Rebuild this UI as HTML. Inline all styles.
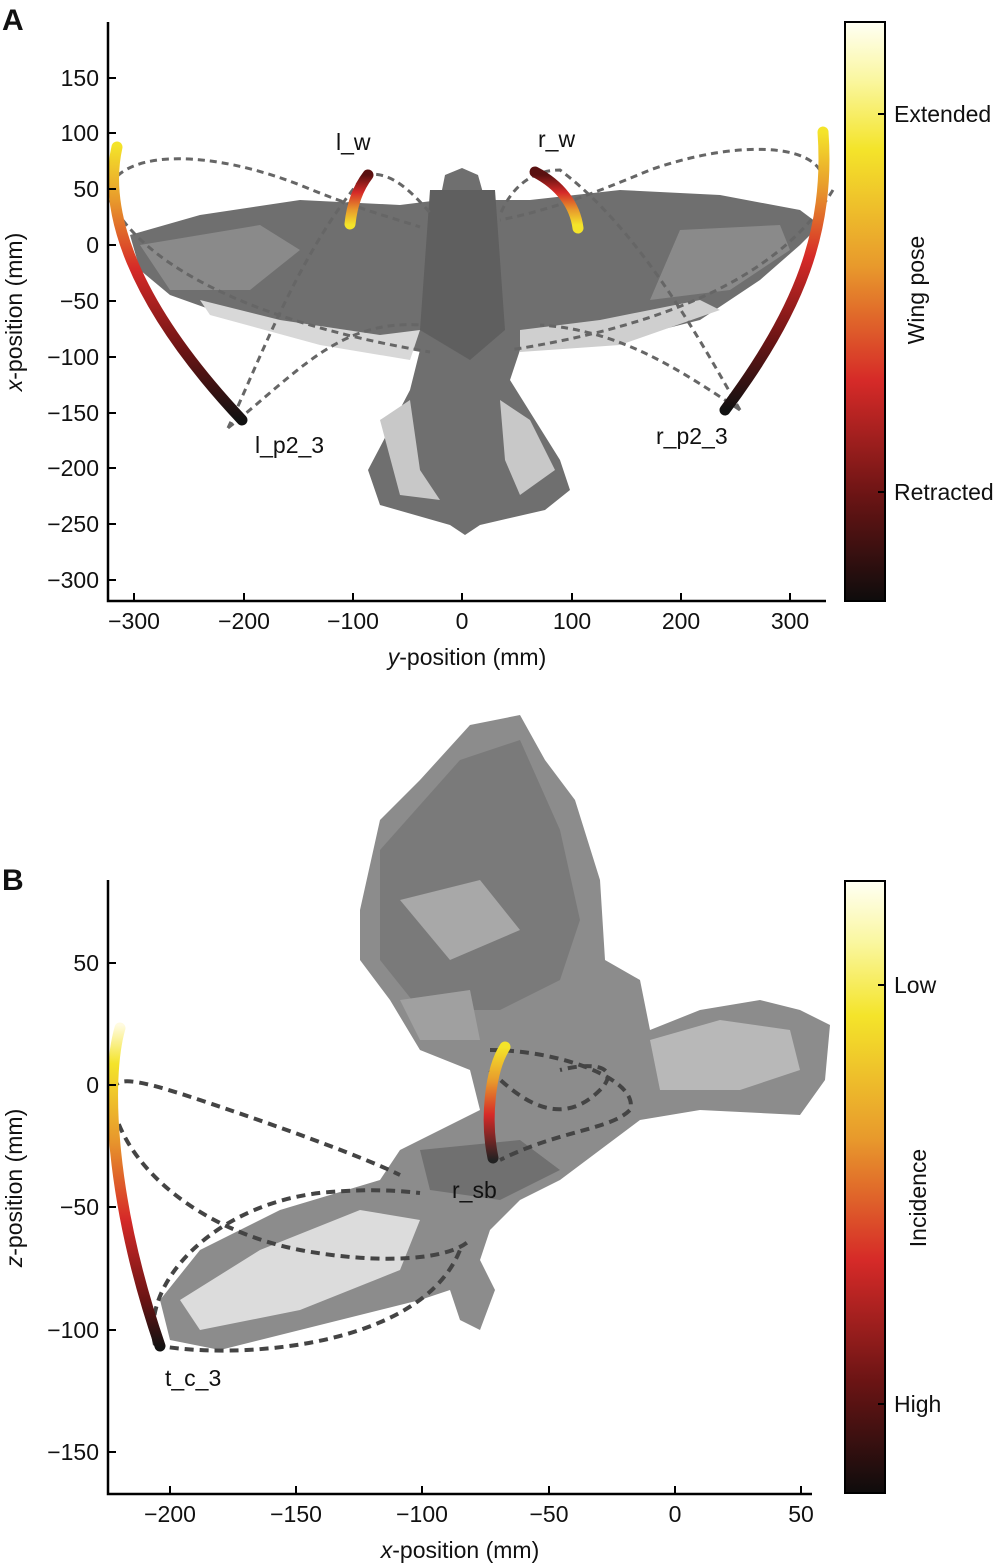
<!DOCTYPE html>
<html><head><meta charset="utf-8"><style>
html,body{margin:0;padding:0;background:#fff}
svg{display:block}
text{font-family:"Liberation Sans",Arial,sans-serif;fill:#111}
</style></head><body>
<svg width="1000" height="1566" viewBox="0 0 1000 1566" xmlns="http://www.w3.org/2000/svg">
<defs>
<linearGradient id="cb" x1="0" y1="0" x2="0" y2="1">
<stop offset="0" stop-color="#fffff4"/><stop offset="0.1" stop-color="#faf7a0"/>
<stop offset="0.22" stop-color="#f4e42a"/><stop offset="0.42" stop-color="#e89a2c"/>
<stop offset="0.62" stop-color="#d62a28"/><stop offset="0.82" stop-color="#6a1414"/>
<stop offset="1" stop-color="#0e0c0c"/></linearGradient>
<linearGradient id="gL" gradientUnits="userSpaceOnUse" x1="0" y1="145" x2="0" y2="420">
<stop offset="0" stop-color="#f4e42a"/><stop offset="0.2" stop-color="#e89a2c"/><stop offset="0.45" stop-color="#d62a28"/><stop offset="0.75" stop-color="#6a1414"/><stop offset="1" stop-color="#111"/></linearGradient>
<linearGradient id="gR" gradientUnits="userSpaceOnUse" x1="0" y1="132" x2="0" y2="410">
<stop offset="0" stop-color="#f4e42a"/><stop offset="0.2" stop-color="#e89a2c"/><stop offset="0.45" stop-color="#d62a28"/><stop offset="0.75" stop-color="#6a1414"/><stop offset="1" stop-color="#111"/></linearGradient>
<linearGradient id="gW" gradientUnits="userSpaceOnUse" x1="0" y1="175" x2="0" y2="225">
<stop offset="0" stop-color="#5a1010"/><stop offset="0.35" stop-color="#d62a28"/><stop offset="0.7" stop-color="#e89a2c"/><stop offset="1" stop-color="#f4e42a"/></linearGradient>
<linearGradient id="gT" gradientUnits="userSpaceOnUse" x1="0" y1="1025" x2="0" y2="1348">
<stop offset="0" stop-color="#fffbe0"/><stop offset="0.12" stop-color="#f4e42a"/><stop offset="0.35" stop-color="#e89a2c"/><stop offset="0.6" stop-color="#d62a28"/><stop offset="0.85" stop-color="#6a1414"/><stop offset="1" stop-color="#111"/></linearGradient>
<linearGradient id="gS" gradientUnits="userSpaceOnUse" x1="0" y1="1047" x2="0" y2="1160">
<stop offset="0" stop-color="#f4e42a"/><stop offset="0.3" stop-color="#e89a2c"/><stop offset="0.6" stop-color="#d62a28"/><stop offset="1" stop-color="#222"/></linearGradient>
</defs>

<!-- ===== Panel A ===== -->
<text x="2" y="30" font-size="30" font-weight="bold">A</text>
<g>
<path d="M130,235 L200,215 L300,200 L400,205 L440,200 L445,175 L462,168 L478,175 L485,200 L530,200 L620,190 L720,195 L800,210 L820,225 L800,245 L760,280 L700,320 L620,340 L520,350 L510,380 L560,460 L570,490 L545,510 L480,525 L465,535 L450,525 L380,505 L368,470 L410,390 L420,350 L330,340 L240,320 L170,295 L140,270 Z" fill="#6f6f6f"/>
<path d="M200,300 L280,320 L380,335 L420,330 L410,360 L320,345 L210,315 Z" fill="#d8d8d8"/>
<path d="M520,330 L600,320 L700,300 L720,310 L620,345 L520,352 Z" fill="#cfcfcf"/>
<path d="M380,420 L410,400 L420,470 L440,500 L400,495 Z" fill="#c8c8c8"/>
<path d="M500,400 L530,420 L555,470 L520,495 L505,460 Z" fill="#c8c8c8"/>
<path d="M140,245 L260,225 L300,250 L250,290 L170,290 Z" fill="#8a8a8a"/>
<path d="M680,230 L780,225 L790,250 L730,290 L650,300 Z" fill="#8a8a8a"/>
<path d="M430,190 L495,190 L505,330 L470,360 L420,330 Z" fill="#5f5f5f"/>
</g>
<g fill="none" stroke="#666" stroke-width="3" stroke-dasharray="7,5">
<path d="M110,185 C130,150 210,150 300,185 C360,210 400,220 420,227"/>
<path d="M110,200 C140,260 240,320 430,352"/>
<path d="M228,428 C260,360 300,250 365,175 C390,170 410,190 432,215"/>
<path d="M228,428 C300,370 340,320 420,325"/>
<path d="M820,170 C800,140 720,145 650,170 C590,195 550,210 500,220"/>
<path d="M833,190 C790,260 700,320 510,350"/>
<path d="M740,410 C700,340 640,230 560,170 C530,170 510,190 500,215"/>
<path d="M740,410 C680,370 620,330 540,325"/>
</g>
<g fill="none" stroke-linecap="round" stroke-width="11">
<path d="M117,147 C105,200 120,290 242,420" stroke="url(#gL)"/>
<path d="M823,132 C830,230 800,310 725,410" stroke="url(#gR)"/>
<path d="M368,175 C358,188 352,205 350,224" stroke="url(#gW)"/>
<path d="M535,172 C560,185 575,205 578,228" stroke="url(#gW)"/>
</g>
<g font-size="23">
<text x="336" y="150">l_w</text><text x="538" y="147">r_w</text>
<text x="255" y="453">l_p2_3</text><text x="656" y="444">r_p2_3</text>
</g>
<g stroke="#000" stroke-width="2.5" fill="none">
<path d="M108,22 V601 H826"/>
</g>
<g stroke="#000" stroke-width="2">
<path d="M108,78h8M108,133h8M108,189h8M108,245h8M108,301h8M108,357h8M108,413h8M108,468h8M108,524h8M108,580h8"/>
<path d="M134,601v-8M244,601v-8M353,601v-8M462,601v-8M572,601v-8M681,601v-8M790,601v-8"/>
</g>
<g font-size="23" text-anchor="end">
<text x="99" y="86">150</text><text x="99" y="141">100</text><text x="99" y="197">50</text><text x="99" y="253">0</text>
<text x="99" y="309">−50</text><text x="99" y="365">−100</text><text x="99" y="421">−150</text><text x="99" y="476">−200</text><text x="99" y="532">−250</text><text x="99" y="588">−300</text>
</g>
<g font-size="23" text-anchor="middle">
<text x="134" y="629">−300</text><text x="244" y="629">−200</text><text x="353" y="629">−100</text><text x="462" y="629">0</text><text x="572" y="629">100</text><text x="681" y="629">200</text><text x="790" y="629">300</text>
<text x="467" y="665"><tspan font-style="italic">y</tspan>-position (mm)</text>
<text transform="translate(22,312) rotate(-90)"><tspan font-style="italic">x</tspan>-position (mm)</text>
</g>
<rect x="845" y="22" width="40" height="579" fill="url(#cb)" stroke="#000" stroke-width="2"/>
<path d="M885,114h-7M885,492h-7" stroke="#000" stroke-width="2"/>
<g font-size="23"><text x="894" y="122">Extended</text><text x="894" y="500">Retracted</text>
<text transform="translate(924,290) rotate(-90)" text-anchor="middle">Wing pose</text></g>

<!-- ===== Panel B ===== -->
<text x="2" y="890" font-size="30" font-weight="bold">B</text>
<g>
<path d="M360,910 L380,820 L420,780 L470,725 L520,715 L545,760 L575,800 L600,880 L605,960 L640,980 L650,1030 L700,1010 L760,1000 L800,1010 L830,1025 L825,1080 L800,1115 L700,1110 L640,1120 L600,1150 L560,1180 L520,1200 L490,1230 L480,1260 L495,1290 L480,1330 L460,1320 L450,1290 L420,1300 L300,1330 L220,1350 L170,1340 L160,1300 L200,1250 L280,1210 L380,1180 L400,1150 L440,1130 L480,1110 L470,1070 L420,1050 L390,1000 L360,960 Z" fill="#8c8c8c"/>
<path d="M380,850 L460,760 L520,740 L560,830 L580,920 L560,980 L500,1010 L420,1010 L380,960 Z" fill="#7a7a7a"/>
<path d="M180,1300 L260,1250 L360,1210 L420,1220 L400,1270 L300,1310 L200,1330 Z" fill="#dcdcdc"/>
<path d="M650,1040 L720,1020 L790,1030 L800,1070 L740,1090 L660,1090 Z" fill="#b8b8b8"/>
<path d="M420,1150 L520,1140 L560,1170 L500,1200 L430,1190 Z" fill="#707070"/>
<path d="M400,900 L480,880 L520,930 L450,960 Z" fill="#a8a8a8"/>
<path d="M400,1000 L470,990 L480,1040 L420,1040 Z" fill="#a0a0a0"/>
</g>
<g fill="none" stroke="#444" stroke-width="4" stroke-dasharray="9,6">
<path d="M114,1090 C115,1075 140,1080 200,1100 C290,1130 370,1160 400,1175"/>
<path d="M114,1110 C130,1170 200,1230 300,1250 C380,1265 450,1260 470,1240"/>
<path d="M155,1345 C140,1280 220,1200 330,1192 C380,1188 410,1192 420,1193"/>
<path d="M155,1345 C230,1360 420,1350 460,1250"/>
<path d="M490,1050 C560,1050 640,1080 630,1110 C610,1130 560,1130 500,1160"/>
<path d="M490,1070 C520,1100 560,1130 600,1090 C620,1070 600,1060 560,1070"/>
</g>
<g fill="none" stroke-linecap="round" stroke-width="11">
<path d="M120,1028 C105,1080 110,1200 160,1346" stroke="url(#gT)"/>
<path d="M505,1047 C490,1070 485,1120 493,1158" stroke="url(#gS)"/>
</g>
<g font-size="23"><text x="452" y="1198">r_sb</text><text x="165" y="1386">t_c_3</text></g>
<g stroke="#000" stroke-width="2.5" fill="none"><path d="M108,880 V1494 H812"/></g>
<g stroke="#000" stroke-width="2">
<path d="M108,963h8M108,1085h8M108,1207h8M108,1330h8M108,1452h8"/>
<path d="M170,1494v-8M296,1494v-8M422,1494v-8M549,1494v-8M675,1494v-8M801,1494v-8"/>
</g>
<g font-size="23" text-anchor="end">
<text x="99" y="971">50</text><text x="99" y="1093">0</text><text x="99" y="1215">−50</text><text x="99" y="1338">−100</text><text x="99" y="1460">−150</text>
</g>
<g font-size="23" text-anchor="middle">
<text x="170" y="1522">−200</text><text x="296" y="1522">−150</text><text x="422" y="1522">−100</text><text x="549" y="1522">−50</text><text x="675" y="1522">0</text><text x="801" y="1522">50</text>
<text x="460" y="1558"><tspan font-style="italic">x</tspan>-position (mm)</text>
<text transform="translate(22,1188) rotate(-90)"><tspan font-style="italic">z</tspan>-position (mm)</text>
</g>
<rect x="845" y="881" width="40" height="612" fill="url(#cb)" stroke="#000" stroke-width="2"/>
<path d="M885,985h-7M885,1404h-7" stroke="#000" stroke-width="2"/>
<g font-size="23"><text x="894" y="993">Low</text><text x="894" y="1412">High</text>
<text transform="translate(926,1198) rotate(-90)" text-anchor="middle">Incidence</text></g>
</svg>
</body></html>
